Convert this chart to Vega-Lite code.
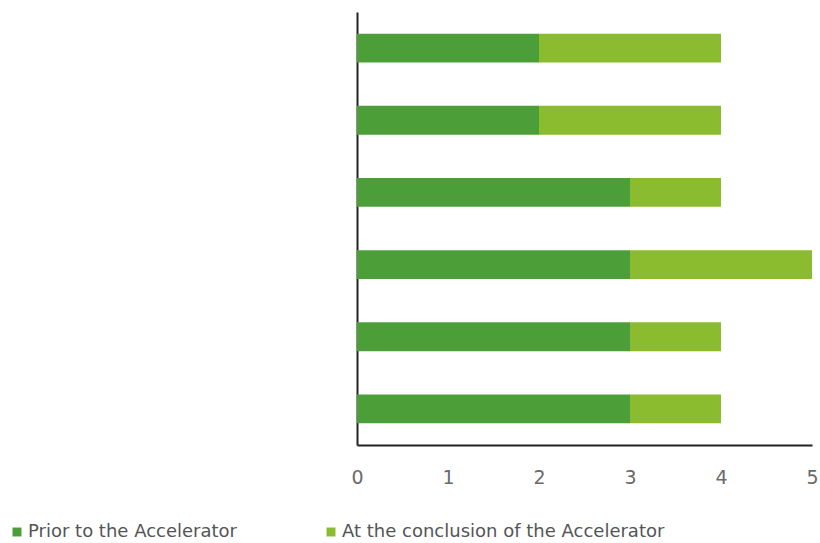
{
  "$schema": "https://vega.github.io/schema/vega-lite/v6.json",
  "width": 455,
  "height": 433,
  "padding": {"left": 357, "top": 12, "right": 8, "bottom": 98},
  "autosize": {"type": "none"},
  "background": "white",
  "config": {
    "view": {"stroke": null},
    "font": "DejaVu Sans"
  },
  "data": {
    "values": [
      {"item": "1", "series": "Prior to the Accelerator", "value": 2, "ord": 0},
      {"item": "1", "series": "At the conclusion of the Accelerator", "value": 2, "ord": 1},
      {"item": "2", "series": "Prior to the Accelerator", "value": 2, "ord": 0},
      {"item": "2", "series": "At the conclusion of the Accelerator", "value": 2, "ord": 1},
      {"item": "3", "series": "Prior to the Accelerator", "value": 3, "ord": 0},
      {"item": "3", "series": "At the conclusion of the Accelerator", "value": 1, "ord": 1},
      {"item": "4", "series": "Prior to the Accelerator", "value": 3, "ord": 0},
      {"item": "4", "series": "At the conclusion of the Accelerator", "value": 2, "ord": 1},
      {"item": "5", "series": "Prior to the Accelerator", "value": 3, "ord": 0},
      {"item": "5", "series": "At the conclusion of the Accelerator", "value": 1, "ord": 1},
      {"item": "6", "series": "Prior to the Accelerator", "value": 3, "ord": 0},
      {"item": "6", "series": "At the conclusion of the Accelerator", "value": 1, "ord": 1}
    ]
  },
  "mark": {"type": "bar"},
  "encoding": {
    "y": {
      "field": "item",
      "type": "nominal",
      "sort": null,
      "scale": {"paddingInner": 0.6, "paddingOuter": 0.3},
      "axis": {"title": null, "labels": false, "ticks": false, "domainColor": "#222", "domainWidth": 2}
    },
    "x": {
      "field": "value",
      "type": "quantitative",
      "stack": "zero",
      "scale": {"domain": [0, 5], "nice": false},
      "axis": {
        "title": null,
        "values": [0, 1, 2, 3, 4, 5],
        "grid": false,
        "ticks": false,
        "domainColor": "#222",
        "domainWidth": 2,
        "labelPadding": 23,
        "labelFontSize": 19,
        "labelColor": "#6a6a6a",
        "labelFlush": false
      }
    },
    "color": {
      "field": "series",
      "type": "nominal",
      "sort": ["Prior to the Accelerator", "At the conclusion of the Accelerator"],
      "scale": {
        "domain": ["Prior to the Accelerator", "At the conclusion of the Accelerator"],
        "range": ["#4c9f38", "#8bbb2e"]
      },
      "legend": {
        "title": null,
        "orient": "none",
        "legendX": -349,
        "legendY": 511,
        "direction": "horizontal",
        "columns": 2,
        "columnPadding": 85,
        "symbolType": "square",
        "symbolSize": 80,
        "symbolStrokeWidth": 0,
        "labelFontSize": 18,
        "labelLimit": 0,
        "labelColor": "#555",
        "labelOffset": 2
      }
    },
    "order": {"field": "ord", "type": "quantitative"}
  }
}
